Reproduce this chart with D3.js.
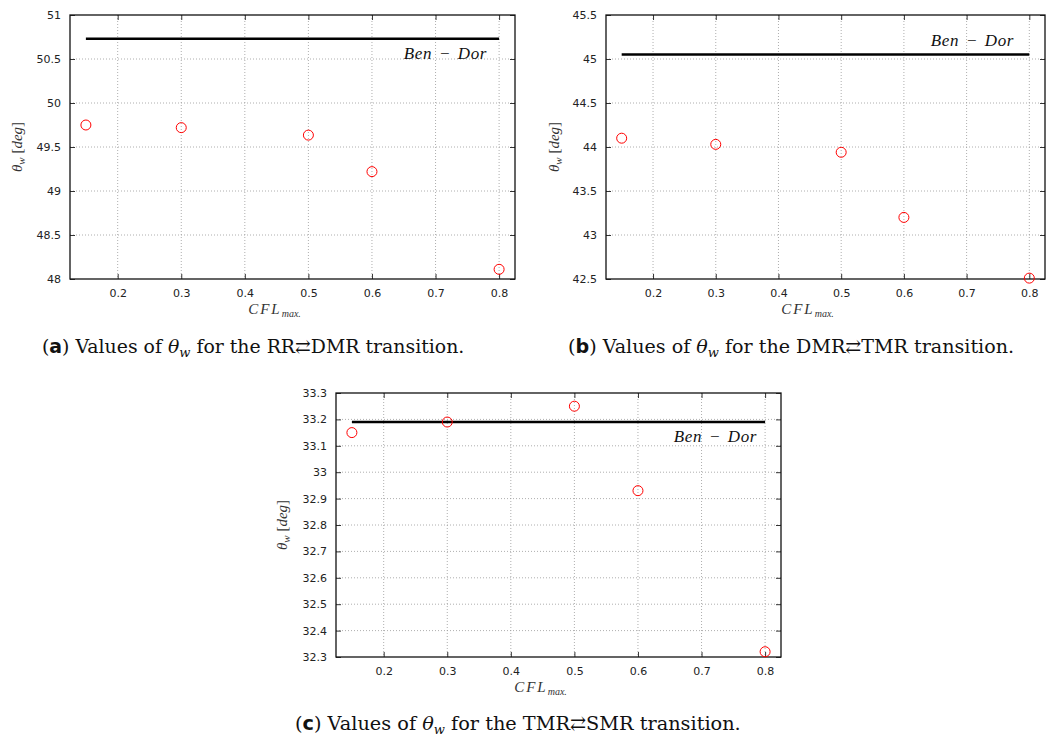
<!DOCTYPE html>
<head>
  <meta charset="utf-8">
  <script src="https://d3js.org/d3.v7.min.js"></script>
  <style>
    body { margin:0; background:white; }
  </style>
</head>
<body>
<script>
  // CFL values used in every run
  const cflValues = [0.15, 0.3, 0.5, 0.6, 0.8];
  // wave angle theta_w [deg]
  const thetaRRDMR = [49.75, 49.72, 49.635, 49.22, 48.11];
  const thetaDMRTMR = [44.10, 44.03, 43.94, 43.20, 42.51];
  const thetaTMRSMR = [33.15, 33.19, 33.25, 32.93, 32.32];
  // Ben-Dor reference value for each transition
  const benDor = [50.73, 45.05, 33.19];

  const xTicks = [0.2, 0.3, 0.4, 0.5, 0.6, 0.7, 0.8];
  const yTicksA = [48, 48.5, 49, 49.5, 50, 50.5, 51];
  const yTicksB = [42.5, 43, 43.5, 44, 44.5, 45, 45.5];
  const yTicksC = [32.3, 32.4, 32.5, 32.6, 32.7, 32.8, 32.9, 33, 33.1, 33.2, 33.3];

  const captionLetters = ['a', 'b', 'c'];
  const transitions = ['RR\u21C4DMR', 'DMR\u21C4TMR', 'TMR\u21C4SMR'];

  const svg = d3.select('body').append('svg')
      .attr('width', 1050)
      .attr('height', 738);

  const tickFont = 'DejaVu Sans';
  const serif = 'Liberation Serif';
  const capFont = 'DejaVu Serif';

  const panels = [
    {left: 70, top: 15, width: 445, height: 264, values: thetaRRDMR, ticks: yTicksA,
     ben: benDor[0], labelBelow: true, labelRight: 487, ylabX: 22, capX: 42, capEnd: 465, capY: 353},
    {left: 606, top: 15, width: 439, height: 264, values: thetaDMRTMR, ticks: yTicksB,
     ben: benDor[1], labelBelow: false, labelRight: 1014, ylabX: 559, capX: 568, capEnd: 1015, capY: 353},
    {left: 336, top: 393, width: 445, height: 264, values: thetaTMRSMR, ticks: yTicksC,
     ben: benDor[2], labelBelow: true, labelRight: 757, ylabX: 287, capX: 295, capEnd: 742, capY: 730}
  ];

  panels.forEach((p, i) => {
    const x = d3.scaleLinear().domain([0.125, 0.825]).range([p.left, p.left + p.width]);
    const y = d3.scaleLinear().domain(d3.extent(p.ticks)).range([p.top + p.height, p.top]);
    const g = svg.append('g');

    // grid
    g.selectAll('.vgrid').data(xTicks).enter().append('line')
      .attr('x1', d => x(d)).attr('x2', d => x(d))
      .attr('y1', p.top).attr('y2', p.top + p.height)
      .style('stroke', '#999').style('stroke-width', 0.8).style('stroke-dasharray', '1,2');
    g.selectAll('.hgrid').data(p.ticks.slice(1, -1)).enter().append('line')
      .attr('x1', p.left).attr('x2', p.left + p.width)
      .attr('y1', d => y(d)).attr('y2', d => y(d))
      .style('stroke', '#999').style('stroke-width', 0.8).style('stroke-dasharray', '1,2');

    // axes (ticks inward, mirrored)
    const tick = 5;
    const axB = g.append('g').attr('transform', `translate(0,${p.top + p.height})`)
      .call(d3.axisBottom(x).tickValues(xTicks).tickSizeInner(-tick).tickSizeOuter(0).tickPadding(10).tickFormat(d3.format('.1f')));
    const axT = g.append('g').attr('transform', `translate(0,${p.top})`)
      .call(d3.axisTop(x).tickValues(xTicks).tickSizeInner(-tick).tickSizeOuter(0).tickFormat(''));
    const axL = g.append('g').attr('transform', `translate(${p.left},0)`)
      .call(d3.axisLeft(y).tickValues(p.ticks).tickSizeInner(-tick).tickSizeOuter(0).tickPadding(9).tickFormat(d => +d.toFixed(1)));
    const axR = g.append('g').attr('transform', `translate(${p.left + p.width},0)`)
      .call(d3.axisRight(y).tickValues(p.ticks).tickSizeInner(-tick).tickSizeOuter(0).tickFormat(''));
    [axB, axT, axL, axR].forEach(a => {
      a.select('.domain').remove();
      a.selectAll('line').style('stroke', '#333').style('stroke-width', 1);
      a.selectAll('text').style('font-family', tickFont).style('font-size', '11px').style('fill', '#222');
    });

    // frame
    g.append('rect')
      .attr('x', p.left).attr('y', p.top).attr('width', p.width).attr('height', p.height)
      .style('fill', 'none').style('stroke', '#111').style('stroke-width', 1.3);

    // Ben-Dor line
    g.append('line')
      .attr('x1', x(d3.min(cflValues))).attr('x2', x(d3.max(cflValues)))
      .attr('y1', y(p.ben)).attr('y2', y(p.ben))
      .style('stroke', '#000').style('stroke-width', 2.5);
    g.append('text')
      .attr('x', p.labelRight)
      .attr('y', y(p.ben) + (p.labelBelow ? 20 : -9))
      .attr('text-anchor', 'end')
      .style('font-family', serif).style('font-style', 'italic').style('font-size', '17px')
      .style('letter-spacing', '0.6px').style('word-spacing', '2px').style('fill', '#111')
      .text('Ben \u2212 Dor');

    // points
    g.selectAll('.pt').data(cflValues).enter().append('circle')
      .attr('cx', d => x(d))
      .attr('cy', (d, k) => y(p.values[k]))
      .attr('r', 5)
      .style('fill', 'none').style('stroke', 'red').style('stroke-width', 1);

    // y label
    const yl = g.append('text')
      .attr('transform', `translate(${p.ylabX},${p.top + p.height / 2}) rotate(-90)`)
      .attr('text-anchor', 'middle')
      .style('font-family', serif).style('font-size', '15px').style('fill', '#333');
    yl.append('tspan').style('font-style', 'italic').text('\u03B8');
    yl.append('tspan').style('font-style', 'italic').style('font-size', '11px').attr('dy', 3).text('w');
    yl.append('tspan').attr('dy', -3).text(' [');
    yl.append('tspan').style('font-style', 'italic').text('deg');
    yl.append('tspan').text(']');

    // x label
    const xl = g.append('text')
      .attr('x', p.left + p.width / 2 - 18)
      .attr('y', p.top + p.height + 35)
      .attr('text-anchor', 'middle')
      .style('font-family', serif).style('font-style', 'italic').style('font-size', '15px').style('fill', '#333');
    xl.append('tspan').style('letter-spacing', '2px').text('CFL');
    xl.append('tspan').style('font-size', '10px').attr('dy', 3).text('max.');

    // caption
    const cap = svg.append('text')
      .attr('x', p.capX).attr('y', p.capY)
      .style('font-family', capFont).style('font-size', '18px').style('fill', '#111');
    cap.append('tspan').text('(');
    cap.append('tspan').style('font-weight', 'bold').style('font-family', 'DejaVu Sans').style('font-size', '18px').text(captionLetters[i]);
    cap.append('tspan').text(') Values of ');
    cap.append('tspan').style('font-style', 'italic').text('\u03B8');
    cap.append('tspan').style('font-style', 'italic').style('font-size', '13px').attr('dy', 4).text('w');
    cap.append('tspan').attr('dy', -4).text(` for the ${transitions[i]} transition.`);

    // stretch caption to the measured width of the original
    const w = cap.node().getComputedTextLength();
    const target = p.capEnd - p.capX;
    if (Math.abs(w - target) > 4) {
      cap.style('font-size', (18 * target / w).toFixed(2) + 'px');
      cap.selectAll('tspan').filter(function() { return this.style.fontSize === '18px'; })
        .style('font-size', (18 * target / w).toFixed(2) + 'px');
    }
  });
</script>
</body>
